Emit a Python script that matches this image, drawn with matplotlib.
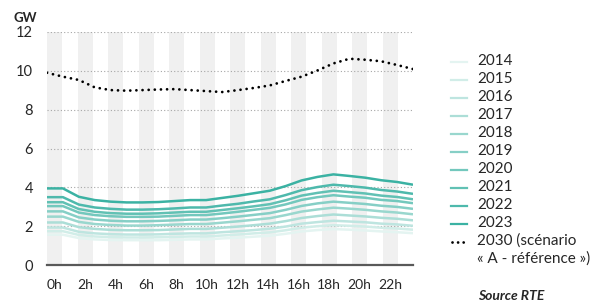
import numpy as np
import matplotlib.pyplot as plt
import matplotlib.colors as mcolors
from matplotlib.lines import Line2D

plt.rcParams['font.family'] = ['Lato', 'DejaVu Sans']

hours = list(range(24))
hour_labels = [f'{h}h' for h in range(0, 24, 2)]
years = ['2014', '2015', '2016', '2017', '2018', '2019', '2020', '2021', '2022', '2023']

gw_2014 = [1.57, 1.57, 1.40, 1.33, 1.30, 1.29, 1.29, 1.29, 1.31, 1.33, 1.33, 1.38,
           1.42, 1.47, 1.52, 1.62, 1.74, 1.81, 1.86, 1.83, 1.79, 1.74, 1.70, 1.65]
gw_2015 = [1.75, 1.75, 1.56, 1.48, 1.45, 1.43, 1.43, 1.44, 1.46, 1.48, 1.48, 1.53,
           1.58, 1.64, 1.69, 1.80, 1.93, 2.01, 2.06, 2.03, 1.99, 1.93, 1.89, 1.83]
gw_2016 = [1.94, 1.94, 1.72, 1.64, 1.60, 1.58, 1.58, 1.59, 1.62, 1.64, 1.64, 1.70,
           1.75, 1.81, 1.88, 1.99, 2.14, 2.22, 2.29, 2.25, 2.21, 2.14, 2.10, 2.03]
gw_2017 = [2.20, 2.20, 1.96, 1.87, 1.82, 1.80, 1.80, 1.81, 1.84, 1.87, 1.87, 1.93,
           1.99, 2.06, 2.14, 2.27, 2.43, 2.53, 2.61, 2.56, 2.51, 2.44, 2.39, 2.31]
gw_2018 = [2.50, 2.50, 2.23, 2.12, 2.07, 2.04, 2.04, 2.06, 2.09, 2.12, 2.12, 2.19,
           2.26, 2.34, 2.42, 2.58, 2.76, 2.87, 2.96, 2.91, 2.85, 2.77, 2.71, 2.62]
gw_2019 = [2.77, 2.77, 2.46, 2.35, 2.29, 2.26, 2.26, 2.28, 2.31, 2.35, 2.35, 2.42,
           2.50, 2.59, 2.68, 2.85, 3.05, 3.18, 3.27, 3.21, 3.15, 3.06, 3.00, 2.90]
gw_2020 = [3.04, 3.04, 2.71, 2.58, 2.52, 2.49, 2.49, 2.50, 2.54, 2.58, 2.58, 2.66,
           2.75, 2.85, 2.95, 3.13, 3.36, 3.50, 3.60, 3.53, 3.47, 3.36, 3.30, 3.19]
gw_2021 = [3.24, 3.24, 2.89, 2.75, 2.68, 2.65, 2.65, 2.67, 2.71, 2.75, 2.75, 2.84,
           2.93, 3.03, 3.14, 3.34, 3.58, 3.72, 3.83, 3.76, 3.69, 3.58, 3.51, 3.39]
gw_2022 = [3.50, 3.50, 3.12, 2.97, 2.90, 2.86, 2.86, 2.88, 2.92, 2.97, 2.97, 3.07,
           3.16, 3.28, 3.39, 3.61, 3.86, 4.02, 4.14, 4.07, 3.99, 3.87, 3.79, 3.67]
gw_2023 = [3.95, 3.95, 3.52, 3.35, 3.27, 3.23, 3.23, 3.25, 3.30, 3.35, 3.35, 3.46,
           3.57, 3.70, 3.83, 4.07, 4.36, 4.54, 4.67, 4.59, 4.50, 4.37, 4.28, 4.14]
gw_2030 = [9.89, 9.69, 9.52, 9.14, 9.00, 8.97, 9.00, 9.03, 9.05, 9.00, 8.95, 8.90,
           9.00, 9.11, 9.24, 9.47, 9.69, 10.01, 10.37, 10.61, 10.56, 10.48, 10.29, 10.08]

series = [gw_2014, gw_2015, gw_2016, gw_2017, gw_2018,
          gw_2019, gw_2020, gw_2021, gw_2022, gw_2023]

light = np.array(mcolors.to_rgb('#e4f4f1'))
dark = np.array(mcolors.to_rgb('#3bb2a3'))
colors = [light + (dark - light) * t for t in np.linspace(0, 1, len(years))]

W, H = 607, 305
fig = plt.figure(figsize=(W / 100, H / 100), dpi=100)
ax = fig.add_axes([47 / W, 1 - 265.3 / H, 366 / W, (265.3 - 31.7) / H])

# background bands: one category per hour, grey on even hours
ax.set_xlim(-0.5, 23.5)
ax.set_ylim(0, 12)
for h in hours[::2]:
    ax.axvspan(h - 0.5, h + 0.5, color='#f0f0f0', lw=0, zorder=0)
for y in range(2, 13, 2):
    ax.axhline(y, color='#a6a6a6', lw=0.8, ls=(0, (1, 2)), zorder=1)

ax.set_xticks(hours[::2])
ax.set_xticklabels(hour_labels)
ax.set_yticks(range(0, 13, 2))
ax.tick_params(length=0, labelsize=10, colors='#262626', pad=10)
ax.tick_params(axis='y', pad=10, labelsize=10.5)
for s in ['top', 'right', 'left']:
    ax.spines[s].set_visible(False)
ax.spines['bottom'].set_color('#595959')
ax.spines['bottom'].set_linewidth(1.6)
ax.spines['bottom'].set_zorder(5)

# lines: points on the tick marks, spanning the whole width
lx = ax.twiny()
lx.set_xlim(0, 23)
lx.set_ylim(0, 12)
lx.axis('off')
for vals, c in zip(series, colors):
    lx.plot(hours, vals, color=c, lw=1.8, solid_capstyle='butt', zorder=3)
lx.plot(hours, gw_2030, color='black', lw=2.0, ls=(0, (0.01, 2.2)),
        dash_capstyle='round', zorder=4)

# legend drawn by hand, 18 px per row
def row_y(i):
    return 1 - (62 + 18 * i) / H

for i, (label, c) in enumerate(zip(years, colors)):
    fig.add_artist(Line2D([451 / W, 467 / W], [row_y(i), row_y(i)], color=c, lw=1.6))
    fig.text(477 / W, row_y(i) + 1 / H, label, fontsize=11, va='center', color='#262626')
fig.add_artist(Line2D([452 / W, 467 / W], [row_y(10), row_y(10)], color='black', lw=2.0,
                      ls=(0, (0.01, 2.0)), dash_capstyle='round'))
fig.text(477 / W, row_y(10) + 1 / H, '2030 (scénario', fontsize=11, va='center',
         color='#262626')
fig.text(477 / W, row_y(11) + 1 / H, '« A - référence »)', fontsize=11, va='center',
         color='#262626')

fig.text(14 / W, 1 - 18 / H, 'GW', fontsize=9.5, fontweight='bold', va='center',
         color='#262626')
fig.text(478 / W, 1 - 296 / H, 'Source RTE', fontsize=10, fontweight='bold',
         fontstyle='italic', va='center', color='#262626')

fig.savefig('out.png', dpi=100)
